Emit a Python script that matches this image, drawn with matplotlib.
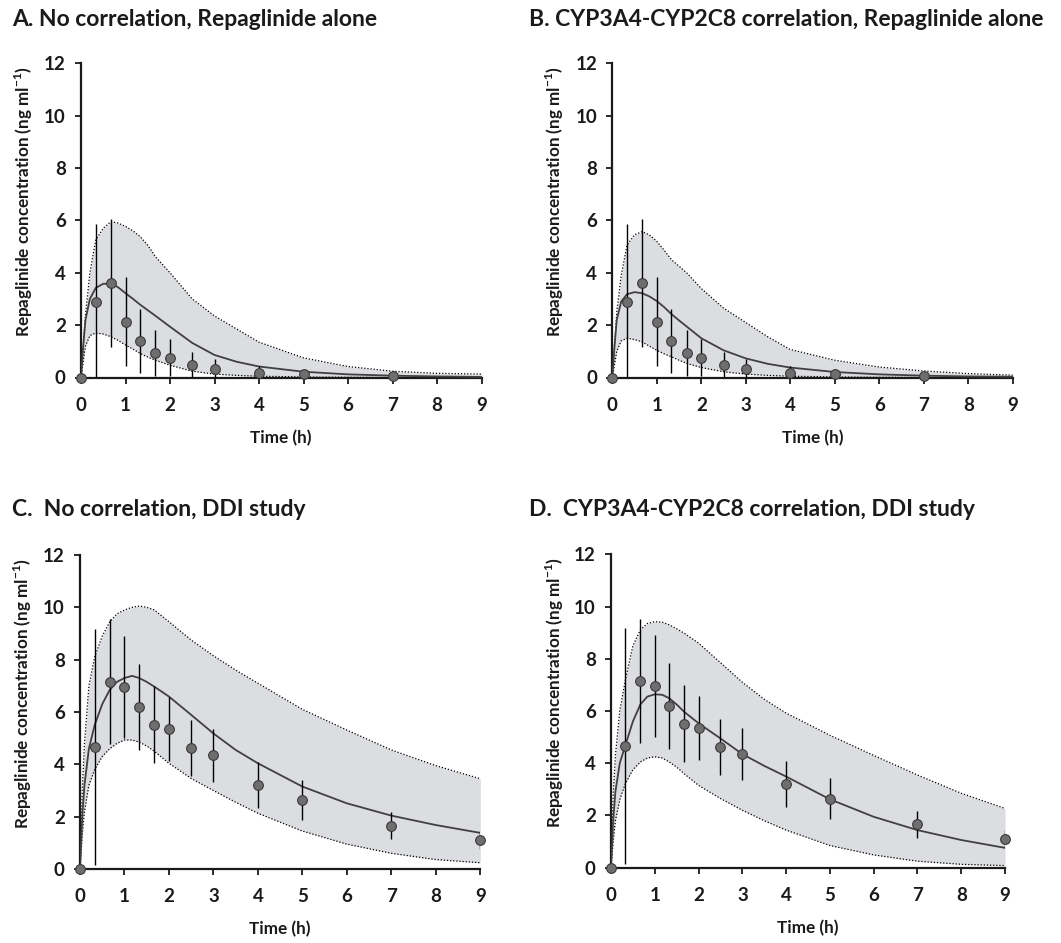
import matplotlib
matplotlib.use("Agg")
import matplotlib.pyplot as plt

plt.rcParams['font.family'] = ['Lato', 'DejaVu Sans']
plt.rcParams['mathtext.fontset'] = 'custom'
plt.rcParams['mathtext.rm'] = 'Lato'

# ---------------- data ----------------
# simulation time grid (h)
t_sim = [0, 0.05, 0.1, 0.2, 0.33, 0.5, 0.67, 0.83, 1.0, 1.17, 1.33, 1.5, 1.67,
         2.0, 2.5, 3.0, 3.5, 4.0, 5.0, 6.0, 7.0, 8.0, 9.0]

# A. No correlation, repaglinide alone
mean_A = [0, 1.2, 2.2, 3.0, 3.42, 3.58, 3.58, 3.45, 3.22, 3.0, 2.78, 2.57, 2.36,
          1.94, 1.32, 0.86, 0.6, 0.42, 0.22, 0.12, 0.07, 0.04, 0.02]
p95_A = [0, 1.2, 2.4, 4.0, 5.25, 5.7, 5.95, 5.9, 5.77, 5.6, 5.38, 5.05, 4.62,
         4.0, 3.0, 2.35, 1.85, 1.35, 0.75, 0.42, 0.24, 0.16, 0.13]
p5_A = [0, 0.6, 1.2, 1.6, 1.7, 1.66, 1.56, 1.42, 1.24, 1.08, 0.92, 0.78, 0.66,
        0.47, 0.24, 0.13, 0.08, 0.05, 0.02, 0.01, 0.0, 0.0, 0.0]

# B. CYP3A4-CYP2C8 correlation, repaglinide alone
mean_B = [0, 1.2, 2.2, 2.9, 3.18, 3.26, 3.22, 3.1, 2.92, 2.68, 2.42, 2.18, 1.95,
          1.5, 1.04, 0.73, 0.52, 0.38, 0.21, 0.12, 0.07, 0.04, 0.03]
p95_B = [0, 1.2, 2.5, 3.9, 5.05, 5.45, 5.57, 5.45, 5.2, 4.85, 4.5, 4.25, 4.0,
         3.4, 2.65, 2.1, 1.55, 1.07, 0.66, 0.4, 0.25, 0.15, 0.09]
p5_B = [0, 0.5, 1.0, 1.4, 1.5, 1.45, 1.36, 1.2, 1.04, 0.9, 0.79, 0.66, 0.54,
        0.38, 0.22, 0.13, 0.08, 0.05, 0.02, 0.01, 0.0, 0.0, 0.0]

# C. No correlation, DDI study
mean_C = [0, 2.0, 3.2, 4.6, 5.5, 6.3, 6.85, 7.15, 7.3, 7.38, 7.3, 7.15, 6.97,
          6.59, 5.89, 5.18, 4.55, 4.04, 3.15, 2.51, 2.04, 1.68, 1.38]
p95_C = [0, 3.0, 4.8, 7.0, 8.1, 8.9, 9.45, 9.75, 9.9, 10.0, 10.05, 10.0, 9.9,
         9.45, 8.75, 8.15, 7.6, 7.1, 6.1, 5.31, 4.55, 3.95, 3.45]
p5_C = [0, 1.3, 2.2, 3.2, 3.8, 4.3, 4.6, 4.8, 4.93, 4.93, 4.85, 4.7, 4.5,
        4.04, 3.46, 3.0, 2.55, 2.13, 1.45, 0.95, 0.6, 0.36, 0.24]

# D. CYP3A4-CYP2C8 correlation, DDI study
mean_D = [0, 1.8, 2.9, 4.0, 4.7, 5.6, 6.25, 6.55, 6.64, 6.62, 6.49, 6.25, 5.97,
          5.53, 4.95, 4.35, 3.9, 3.49, 2.62, 1.95, 1.44, 1.06, 0.76]
p95_D = [0, 2.8, 4.3, 6.0, 7.2, 8.5, 9.1, 9.35, 9.42, 9.4, 9.3, 9.15, 8.98,
         8.6, 7.85, 7.1, 6.45, 5.92, 5.07, 4.3, 3.55, 2.85, 2.27]
p5_D = [0, 1.0, 1.8, 2.6, 3.23, 3.75, 4.05, 4.2, 4.25, 4.2, 4.05, 3.85, 3.6,
        3.15, 2.65, 2.2, 1.8, 1.44, 0.85, 0.49, 0.25, 0.13, 0.08]

# observed data (mean, SD)
t_obs_alone = [0, 0.33, 0.67, 1, 1.33, 1.67, 2, 2.5, 3, 4, 5, 7]
obs_alone = [0, 2.87, 3.62, 2.13, 1.39, 0.94, 0.75, 0.48, 0.33, 0.19, 0.13, 0.05]
sd_alone = [0, 3.0, 2.44, 1.7, 1.21, 0.87, 0.71, 0.49, 0.37, 0.26, 0.1, 0.05]

t_obs_ddi = [0, 0.33, 0.67, 1, 1.33, 1.67, 2, 2.5, 3, 4, 5, 7, 9]
obs_ddi = [0, 4.66, 7.16, 6.96, 6.19, 5.52, 5.34, 4.62, 4.34, 3.22, 2.64, 1.66, 1.11]
sd_ddi = [0, 4.5, 2.38, 1.95, 1.65, 1.48, 1.23, 1.07, 1.0, 0.88, 0.78, 0.53, 0.35]

titles = ["A. No correlation, Repaglinide alone",
          "B. CYP3A4-CYP2C8 correlation, Repaglinide alone",
          "C.  No correlation, DDI study",
          "D.  CYP3A4-CYP2C8 correlation, DDI study"]
x_ticks = [0, 1, 2, 3, 4, 5, 6, 7, 8, 9]
y_ticks = [0, 2, 4, 6, 8, 10, 12]
xlabel = "Time (h)"
ylabel = r"Repaglinide concentration (ng ml$^{\mathregular{-1}}$)"

# ---------------- figure ----------------
W, H = 1061, 943
fig = plt.figure(figsize=(W / 100, H / 100), dpi=100)

def px_axes(x0, x1, ytop, ybot):
    return fig.add_axes([x0 / W, 1 - ybot / H, (x1 - x0) / W, (ybot - ytop) / H])

panels = [
    (px_axes(81, 481.5, 63.3, 377.5), mean_A, p5_A, p95_A, t_obs_alone, obs_alone, sd_alone, (12, 20)),
    (px_axes(612.3, 1012.7, 63.3, 377.5), mean_B, p5_B, p95_B, t_obs_alone, obs_alone, sd_alone, (529, 20)),
    (px_axes(80, 480.3, 555, 869), mean_C, p5_C, p95_C, t_obs_ddi, obs_ddi, sd_ddi, (12, 510)),
    (px_axes(611, 1005, 554.3, 867.7), mean_D, p5_D, p95_D, t_obs_ddi, obs_ddi, sd_ddi, (529, 510)),
]

fill_col = '#dcdde0'
for i, (ax, m, lo, hi, to, yo, sd, (tx, ty)) in enumerate(panels):
    ax.fill_between(t_sim, lo, hi, color=fill_col, lw=0, zorder=1)
    ax.plot(t_sim, hi, color='black', lw=0.9, ls=(0, (1, 1.5)), zorder=2)
    ax.plot(t_sim, lo, color='black', lw=0.9, ls=(0, (1, 1.5)), zorder=2)
    ax.plot(t_sim, m, color='#404040', lw=1.3, zorder=3)
    ax.errorbar(to, yo, yerr=sd, fmt='none', ecolor='black', elinewidth=1.0,
                capsize=0, zorder=4)
    ax.plot(to, yo, 'o', ms=7, mfc='#6e6e6e', mec='#3a3a3a', mew=0.8,
            zorder=5, clip_on=False)

    ax.set_xlim(0, 9)
    ax.set_ylim(0, 12)
    ax.set_xticks(x_ticks)
    ax.set_yticks(y_ticks)
    for s in ['top', 'right']:
        ax.spines[s].set_visible(False)
    for s in ['left', 'bottom']:
        ax.spines[s].set_linewidth(1.6)
        ax.spines[s].set_color('#1a1a1a')
    ax.tick_params(axis='x', direction='out', length=4, width=1.3, pad=10,
                   labelsize=13.5, colors='#1a1a1a')
    ax.tick_params(axis='y', direction='out', length=4, width=1.3, pad=7,
                   labelsize=13.5, colors='#1a1a1a')
    for lab in ax.get_xticklabels() + ax.get_yticklabels():
        lab.set_fontweight('bold')
    ax.set_xlabel(xlabel, fontsize=12.3, fontweight='bold', color='#1a1a1a')
    ax.xaxis.set_label_coords(0.5, -0.167)
    ax.set_ylabel(ylabel, fontsize=12.3, fontweight='bold', color='#1a1a1a')
    ax.yaxis.set_label_coords(-0.115, 0.56)

    fig.text(tx / W, 1 - ty / H, titles[i], fontsize=16.5, fontweight='bold',
             color='#1a1a1a', ha='left', va='center')

fig.savefig('out.png', dpi=100)
